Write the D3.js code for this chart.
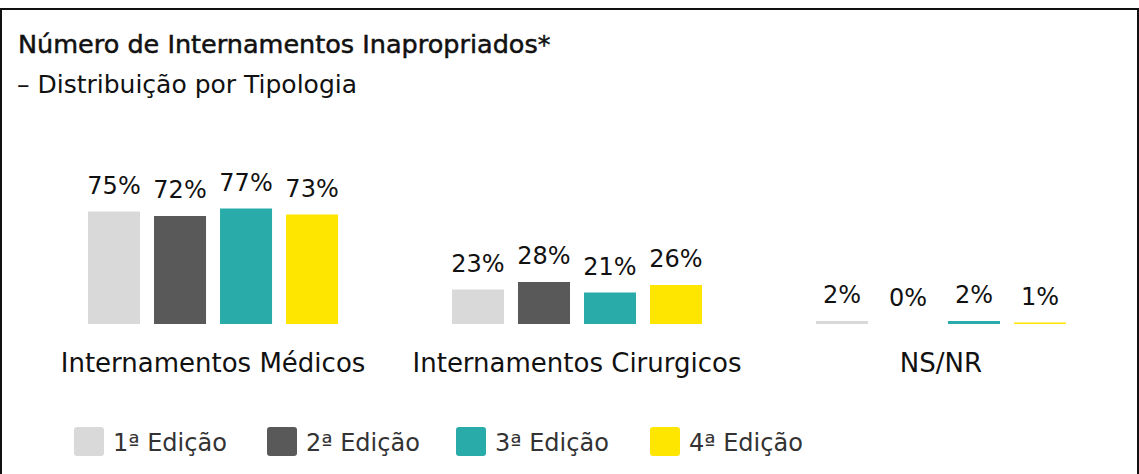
<!DOCTYPE html>
<html lang="pt">
<head>
    <meta charset="utf-8">
    <title>Internamentos Inapropriados</title>
    <script src="https://d3js.org/d3.v7.min.js"></script>
    <style>
        body, html {
            margin: 0;
            padding: 0;
            background: #fff;
        }
        text {
            font-family: "DejaVu Sans", sans-serif;
        }
    </style>
</head>
<body>
<div id="chart"></div>

<script type="text/javascript">
    // Data
    var categories = ["Internamentos Médicos", "Internamentos Cirurgicos", "NS/NR"];
    var editions = ["1ª Edição", "2ª Edição", "3ª Edição", "4ª Edição"];
    var edicao1 = [75, 23, 2];
    var edicao2 = [72, 28, 0];
    var edicao3 = [77, 21, 2];
    var edicao4 = [73, 26, 1];
    var colors = ["#d9d9d9", "#595959", "#29aca9", "#ffe600"];

    var series = [edicao1, edicao2, edicao3, edicao4];

    var w = 1139;
    var h = 474;

    var svg = d3.select("#chart")
        .append("svg")
        .attr("width", w)
        .attr("height", h);

    // Frame round the chart
    svg.append("rect")
        .attr("x", 1)
        .attr("y", 9)
        .attr("width", w - 2)
        .attr("height", h + 10)
        .attr("fill", "none")
        .attr("stroke", "#111")
        .attr("stroke-width", 2);

    // Titles
    svg.append("text")
        .attr("x", 18)
        .attr("y", 53)
        .attr("font-size", 25.5)
        .attr("fill", "#111")
        .attr("stroke", "#111")
        .attr("stroke-width", 0.5)
        .text("Número de Internamentos Inapropriados*");

    svg.append("text")
        .attr("x", 17)
        .attr("y", 93)
        .attr("font-size", 25)
        .attr("fill", "#111")
        .text("– Distribuição por Tipologia");

    // Scales
    var x0 = d3.scaleBand()
        .domain(categories)
        .range([88, 1066])
        .paddingInner(0.313)
        .paddingOuter(0);

    var x1 = d3.scaleBand()
        .domain(d3.range(editions.length))
        .range([0, x0.bandwidth()])
        .paddingInner(0.212)
        .paddingOuter(0);

    var y = d3.scaleLinear()
        .domain([0, 100])
        .range([324, 174]);

    var groups = svg.selectAll("g.group")
        .data(categories)
        .enter()
        .append("g")
        .attr("class", "group")
        .attr("transform", function (d) {
            return "translate(" + x0(d) + ",0)";
        });

    groups.each(function (cat, ci) {
        var g = d3.select(this);
        var vals = series.map(function (s, si) {
            return {si: si, v: s[ci]};
        });

        g.selectAll("rect")
            .data(vals)
            .enter()
            .append("rect")
            .attr("x", function (d) { return x1(d.si); })
            .attr("y", function (d) { return y(d.v); })
            .attr("width", x1.bandwidth())
            .attr("height", function (d) { return y(0) - y(d.v); })
            .attr("fill", function (d) { return colors[d.si]; });

        g.selectAll("text.val")
            .data(vals)
            .enter()
            .append("text")
            .attr("class", "val")
            .attr("x", function (d) { return x1(d.si) + x1.bandwidth() / 2; })
            .attr("y", function (d) { return y(d.v) - 18; })
            .attr("text-anchor", "middle")
            .attr("font-size", 24)
            .attr("fill", "#111")
            .text(function (d) { return d.v + "%"; });

        g.append("text")
            .attr("x", x0.bandwidth() / 2)
            .attr("y", 372)
            .attr("text-anchor", "middle")
            .attr("font-size", 26)
            .attr("fill", "#111")
            .text(cat);
    });

    // Legend
    var legendX = [74, 267, 456, 650];
    var legend = svg.selectAll("g.legend")
        .data(editions)
        .enter()
        .append("g")
        .attr("class", "legend")
        .attr("transform", function (d, i) {
            return "translate(" + legendX[i] + ",427)";
        });

    legend.append("rect")
        .attr("width", 30)
        .attr("height", 29)
        .attr("rx", 3)
        .attr("fill", function (d, i) { return colors[i]; });

    legend.append("text")
        .attr("x", 39)
        .attr("y", 24)
        .attr("font-size", 24)
        .attr("fill", "#333")
        .text(function (d) { return d; });
</script>
</body>
</html>
